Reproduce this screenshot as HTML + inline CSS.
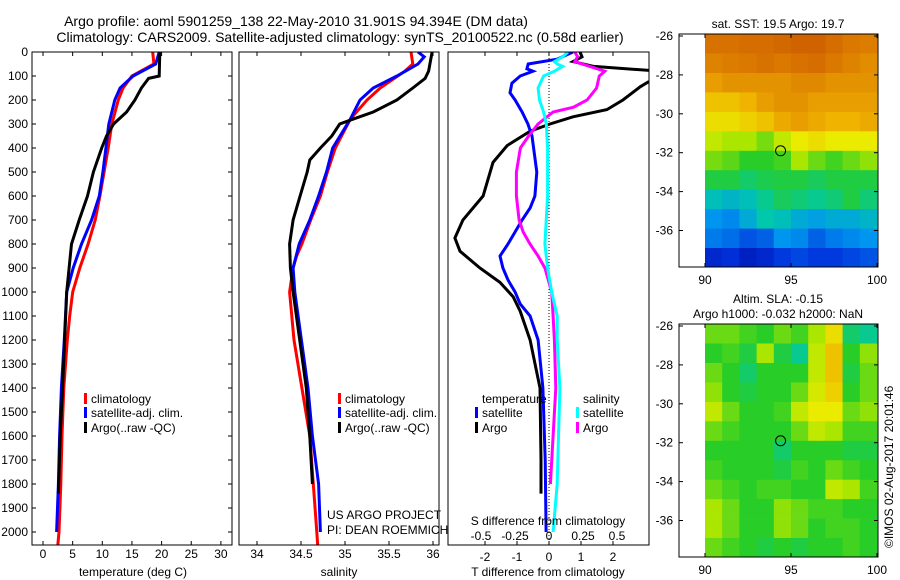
<!DOCTYPE html>
<html><head><meta charset="utf-8"><style>
body{margin:0;background:#fff;}
svg{display:block;font-family:"Liberation Sans",sans-serif;}
</style></head><body>
<svg id="fig" width="900" height="580" viewBox="0 0 900 580">
<rect width="900" height="580" fill="#fff"/>
<text x="296" y="26" font-size="14" text-anchor="middle">Argo profile: aoml 5901259_138 22-May-2010 31.901S 94.394E (DM data)</text>
<text x="340" y="42" font-size="14" text-anchor="middle">Climatology: CARS2009. Satellite-adjusted climatology: synTS_20100522.nc (0.58d earlier)</text>
<defs>
<clipPath id="c1"><rect x="32" y="52" width="200" height="493"/></clipPath>
<clipPath id="c2"><rect x="239" y="52" width="200" height="493"/></clipPath>
<clipPath id="c3"><rect x="448" y="52" width="201" height="493"/></clipPath>
</defs>
<g id="p1"></g>
<g id="p2"></g>
<g id="p3"></g>
<g id="m1"></g>
<g id="m2"></g>
<text transform="translate(893,548) rotate(-90)" font-size="12">©IMOS 02-Aug-2017 20:01:46</text>
</svg>
<script>
// ---- profile data ----
const tempClimDepth=[0,50,100,150,200,300,400,500,600,700,800,900,1000,1100,1200,1400,1600,1800,2000,2055];
const tempClim=[18.5,18.7,15,13.5,12.7,11.6,11,10.3,9.6,8.8,7.6,6.2,5,4.5,4.1,3.5,3.2,3.0,2.7,2.5];
const tempSatDepth=[0,50,100,150,200,300,400,500,600,700,800,900,1000,1200,1400,1600,1800,2000];
const tempSat=[19.6,19,15.2,13,12.1,11.1,10.6,10.1,9.5,8.2,6.5,5.1,4,3.6,3.1,2.8,2.6,2.3];
const tempArgoDepth=[0,100,110,150,200,250,300,350,400,500,600,700,800,900,1000,1400,1600,1840];
const tempArgo=[19.7,19.6,17.8,16.6,15.5,14.1,11.9,10.7,9.9,8.5,7.5,6.1,4.8,4.4,4,3.3,2.9,2.6];
const salClimDepth=[0,50,80,150,200,280,400,500,600,700,800,850,900,1000,1200,1400,1600,1800,2000,2055];
const salClim=[35.75,35.77,35.68,35.4,35.25,35.06,34.89,34.8,34.72,34.61,34.51,34.45,34.41,34.37,34.42,34.51,34.6,34.64,34.68,34.69];
const salSatDepth=[0,20,50,100,150,200,280,400,500,600,700,800,900,1000,1400,1600,1800,2000];
const salSat=[35.83,35.9,35.83,35.59,35.32,35.17,35.06,34.86,34.79,34.7,34.6,34.48,34.41,34.43,34.58,34.63,34.7,34.72];
const salArgoDepth=[0,80,110,150,200,250,280,300,350,400,450,500,600,700,800,900,1000,1400,1600,1800];
const salArgo=[35.99,35.95,35.91,35.77,35.59,35.32,35.09,34.94,34.85,34.72,34.6,34.57,34.49,34.41,34.37,34.38,34.41,34.56,34.6,34.63];
const dTSatDepth=[0,30,50,70,80,100,130,170,200,250,300,350,500,600,650,700,800,850,900,950,1000,1050,1100,1200,1400,1700,2000];
const dTSat=[0.75,0.25,-0.65,-0.69,-0.5,-0.9,-1.16,-1.22,-1.06,-0.84,-0.66,-0.53,-0.38,-0.44,-0.59,-0.84,-1.28,-1.53,-1.44,-1.28,-1.06,-0.9,-0.59,-0.34,-0.19,-0.12,-0.09];
const dTArgoDepth=[0,20,40,60,85,120,125,145,200,240,270,300,330,390,460,600,700,775,830,900,960,1020,1080,1200,1400,1700,1840];
const dTArgo=[0.97,1.03,0.75,1.4,4,4,3.1,2.85,2.31,1.81,0.75,0.03,-0.59,-1.31,-1.75,-2.06,-2.69,-2.94,-2.78,-2.16,-1.53,-1.12,-0.9,-0.59,-0.28,-0.25,-0.25];
const dSSatDepth=[0,20,40,50,60,80,100,150,200,250,300,400,600,800,900,1000,1100,1200,1400,1600,1800,2000];
const dSSat=[0.14,0.1,0.04,0.06,0.10,0.04,-0.04,-0.08,-0.07,-0.04,-0.02,-0.01,-0.01,-0.03,-0.01,0.02,0.06,0.06,0.08,0.07,0.06,0.03];
const dSArgoDepth=[0,20,40,60,80,100,150,200,230,250,300,350,400,500,600,700,750,800,850,900,1000,1100,1200,1400,1600,1800];
const dSArgo=[0.19,0.21,0.19,0.30,0.41,0.37,0.35,0.28,0.18,0.03,-0.08,-0.15,-0.21,-0.24,-0.24,-0.22,-0.19,-0.14,-0.08,-0.03,0.02,0.03,0.04,0.05,0.03,0.01];
// ---- map data (rows north->south, cols 90..100E), normalized colour index ----
const sstGrid=[
[0.86,0.86,0.87,0.87,0.88,0.89,0.89,0.87,0.85,0.84],
[0.83,0.84,0.85,0.86,0.85,0.86,0.87,0.85,0.83,0.81],
[0.78,0.80,0.80,0.80,0.80,0.82,0.82,0.80,0.80,0.80],
[0.72,0.72,0.74,0.78,0.80,0.80,0.78,0.78,0.78,0.78],
[0.68,0.68,0.70,0.72,0.76,0.78,0.76,0.74,0.74,0.76],
[0.62,0.60,0.60,0.56,0.62,0.66,0.68,0.66,0.66,0.66],
[0.56,0.54,0.50,0.50,0.52,0.60,0.55,0.52,0.55,0.58],
[0.48,0.48,0.45,0.47,0.48,0.48,0.46,0.48,0.48,0.48],
[0.38,0.36,0.38,0.42,0.46,0.44,0.42,0.44,0.48,0.44],
[0.30,0.28,0.34,0.40,0.38,0.34,0.32,0.34,0.34,0.36],
[0.26,0.24,0.20,0.22,0.30,0.28,0.22,0.26,0.28,0.30],
[0.12,0.14,0.10,0.12,0.16,0.18,0.16,0.16,0.18,0.20]];
const slaGrid=[
[0.55,0.55,0.52,0.50,0.55,0.52,0.60,0.68,0.45,0.42],
[0.50,0.52,0.48,0.60,0.48,0.42,0.62,0.72,0.50,0.58],
[0.55,0.50,0.45,0.50,0.50,0.50,0.62,0.72,0.48,0.55],
[0.58,0.50,0.48,0.50,0.50,0.55,0.64,0.70,0.50,0.55],
[0.62,0.55,0.50,0.50,0.52,0.62,0.66,0.66,0.55,0.58],
[0.55,0.52,0.50,0.50,0.50,0.55,0.62,0.60,0.52,0.52],
[0.50,0.50,0.50,0.50,0.45,0.50,0.50,0.50,0.48,0.48],
[0.52,0.50,0.50,0.50,0.48,0.52,0.50,0.55,0.52,0.50],
[0.55,0.52,0.50,0.52,0.52,0.50,0.50,0.62,0.60,0.52],
[0.60,0.55,0.50,0.50,0.58,0.55,0.52,0.52,0.50,0.50],
[0.60,0.55,0.50,0.50,0.58,0.55,0.50,0.52,0.52,0.50],
[0.55,0.52,0.50,0.48,0.50,0.48,0.50,0.50,0.52,0.50]];
const depthTicks=[0,100,200,300,400,500,600,700,800,900,1000,1100,1200,1300,1400,1500,1600,1700,1800,1900,2000];
const tempTicks=[0,5,10,15,20,25,30];
const salTicks=[34,34.5,35,35.5,36];
const dTTicks=[-2,-1,0,1,2];
const dSTicks=[-0.5,-0.25,0,0.25,0.5];
const latTicks=[-26,-28,-30,-32,-34,-36];
const lonTicks=[90,95,100];
const argoLon=94.394, argoLat=-31.901;

const NS='http://www.w3.org/2000/svg';
function mk(tag,attrs,parent,text){const e=document.createElementNS(NS,tag);for(const k in attrs)e.setAttribute(k,attrs[k]);if(text!==undefined)e.textContent=text;parent.appendChild(e);return e;}
const yD=d=>52+d*0.24;
const xT=t=>43+t*5.93;
const xS=s=>257+(s-34)*88;
const xdT=t=>549+t*32;
const xdS=s=>549+s*136;

function line(g,depths,vals,xf,color,clip,name){
  const pts=depths.map((d,i)=>xf(vals[i]).toFixed(1)+','+yD(d).toFixed(1)).join(' ');
  const p=mk('polyline',{points:pts,fill:'none',stroke:color,'stroke-width':3,'clip-path':'url(#'+clip+')'},g);
  
  
}
function box(g,x,w){
  const r=mk('rect',{x:x,y:52,width:w,height:493,fill:'none',stroke:'#000','stroke-width':1},g);
  
  
}
function xtick(g,x,label,ly){
  mk('line',{x1:x,x2:x,y1:52,y2:56,stroke:'#000'},g);
  mk('line',{x1:x,x2:x,y1:545,y2:541,stroke:'#000'},g);
  const t=mk('text',{x:x,y:ly,'font-size':12,'text-anchor':'middle'},g,label);
  
  
}
function legendEntry(g,x,y,color,label){
  mk('rect',{x:x,y:y-10,width:3,height:11,fill:color},g);
  const t=mk('text',{x:x+7,y:y,'font-size':12},g,label);
  
  
}
// panel 1
const p1=document.getElementById('p1');
depthTicks.forEach(d=>{
  const y=yD(d);
  mk('line',{x1:32,x2:36,y1:y,y2:y,stroke:'#000'},p1);
  mk('line',{x1:232,x2:228,y1:y,y2:y,stroke:'#000'},p1);
  const t=mk('text',{x:28,y:y+4,'font-size':12,'text-anchor':'end'},p1,String(d));
  
  
});
tempTicks.forEach(v=>xtick(p1,xT(v),String(v),558));
line(p1,tempClimDepth,tempClim,xT,'#f00','c1','temp-climatology-line');
line(p1,tempSatDepth,tempSat,xT,'#00f','c1','temp-satellite-line');
line(p1,tempArgoDepth,tempArgo,xT,'#000','c1','temp-argo-line');
box(p1,32,200);
legendEntry(p1,84,403,'#f00','climatology');
legendEntry(p1,84,417,'#00f','satellite-adj. clim.');
legendEntry(p1,84,432,'#000','Argo(..raw -QC)');
mk('text',{x:133,y:576,'font-size':12,'text-anchor':'middle',},p1,'temperature (deg C)');
// panel 2
const p2=document.getElementById('p2');
salTicks.forEach(v=>xtick(p2,xS(v),String(v),558));
line(p2,salClimDepth,salClim,xS,'#f00','c2','sal-climatology-line');
line(p2,salSatDepth,salSat,xS,'#00f','c2','sal-satellite-line');
line(p2,salArgoDepth,salArgo,xS,'#000','c2','sal-argo-line');
box(p2,239,200);
legendEntry(p2,338,403,'#f00','climatology');
legendEntry(p2,338,417,'#00f','satellite-adj. clim.');
legendEntry(p2,338,432,'#000','Argo(..raw -QC)');
mk('text',{x:327,y:519,'font-size':12,},p2,'US ARGO PROJECT');
mk('text',{x:327,y:534,'font-size':12,},p2,'PI: DEAN ROEMMICH');
mk('text',{x:339,y:576,'font-size':12,'text-anchor':'middle',},p2,'salinity');
// panel 3
const p3=document.getElementById('p3');
mk('line',{x1:549,x2:549,y1:52,y2:545,stroke:'#000','stroke-dasharray':'1,2'},p3);
dTTicks.forEach(v=>xtick(p3,xdT(v),String(v),561));
dSTicks.forEach(v=>{const t=mk('text',{x:xdS(v),y:540,'font-size':12,'text-anchor':'middle'},p3,String(v));});
line(p3,dTArgoDepth,dTArgo,xdT,'#000','c3','dT-argo-line');
line(p3,dTSatDepth,dTSat,xdT,'#00f','c3','dT-satellite-line');
line(p3,dSArgoDepth,dSArgo,xdS,'#f0f','c3','dS-argo-line');
line(p3,dSSatDepth,dSSat,xdS,'#0ff','c3','dS-satellite-line');
box(p3,448,201);
mk('text',{x:482,y:403,'font-size':12,},p3,'temperature');
mk('text',{x:583,y:403,'font-size':12,},p3,'salinity');
legendEntry(p3,475,417,'#00f','satellite');
legendEntry(p3,475,432,'#000','Argo');
legendEntry(p3,576,417,'#0ff','satellite');
legendEntry(p3,576,432,'#f0f','Argo');
mk('text',{x:548,y:525,'font-size':12,'text-anchor':'middle',},p3,'S difference from climatology');
mk('text',{x:548,y:576,'font-size':12,'text-anchor':'middle',},p3,'T difference from climatology');
// maps
const stops=[[0,[0,0,140]],[0.15,[0,50,220]],[0.3,[0,150,240]],[0.4,[0,200,170]],[0.5,[40,205,40]],[0.6,[170,230,0]],[0.66,[235,235,0]],[0.74,[240,180,0]],[0.84,[220,125,0]],[1,[180,40,0]]];
function cmap(v){for(let i=1;i<stops.length;i++){if(v<=stops[i][0]){const a=stops[i-1],b=stops[i];const f=(v-a[0])/(b[0]-a[0]);return 'rgb('+a[1].map((c,k)=>Math.round(c+(b[1][k]-c)*f)).join(',')+')';}}return 'rgb(180,40,0)';}
function map(id,top,lat26y,grid,title){
  const g=document.getElementById(id);
  const xL=lon=>705+(lon-90)*17.2;
  const yL=lat=>lat26y+(-26-lat)*19.45;
  const bottom=top+233;
  grid.forEach((row,r)=>row.forEach((v,c)=>{
    const y0=yL(-25.9-r), y1=Math.min(bottom,yL(-26.9-r));
    const cell=mk('rect',{x:xL(90+c).toFixed(1),y:y0.toFixed(1),width:17.6,height:(y1-y0+0.4).toFixed(1),fill:cmap(v)},g);
    
    
  }));
  mk('rect',{x:700,y:top-2,width:5,height:237,fill:'#fff'},g);
  mk('rect',{x:878,y:top-2,width:8,height:237,fill:'#fff'},g);
  mk('rect',{x:679,y:top,width:199,height:233,fill:'none',stroke:'#000'},g);
  latTicks.forEach(l=>{const y=yL(l);mk('line',{x1:679,x2:683,y1:y,y2:y,stroke:'#000'},g);mk('line',{x1:878,x2:874,y1:y,y2:y,stroke:'#000'},g);
    const t=mk('text',{x:673,y:y+4,'font-size':12,'text-anchor':'end'},g,String(l));});
  lonTicks.forEach(l=>{const x=xL(l);mk('line',{x1:x,x2:x,y1:bottom,y2:bottom-4,stroke:'#000'},g);mk('line',{x1:x,x2:x,y1:top,y2:top+4,stroke:'#000'},g);
    const t=mk('text',{x:x,y:bottom+17,'font-size':12,'text-anchor':'middle'},g,String(l));});
  const c=mk('circle',{cx:xL(argoLon),cy:yL(argoLat),r:5,fill:'none',stroke:'#000'},g);
  
  
  title.forEach((t,i)=>{const e=mk('text',{x:778,y:top-21+i*15+(title.length===1?15:0),'font-size':12,'text-anchor':'middle'},g,t);});
}
map('m1',34,36,sstGrid,['sat. SST: 19.5 Argo: 19.7']);
map('m2',324,326,slaGrid,['Altim. SLA: -0.15','Argo h1000: -0.032 h2000: NaN']);
</script>
</body></html>
